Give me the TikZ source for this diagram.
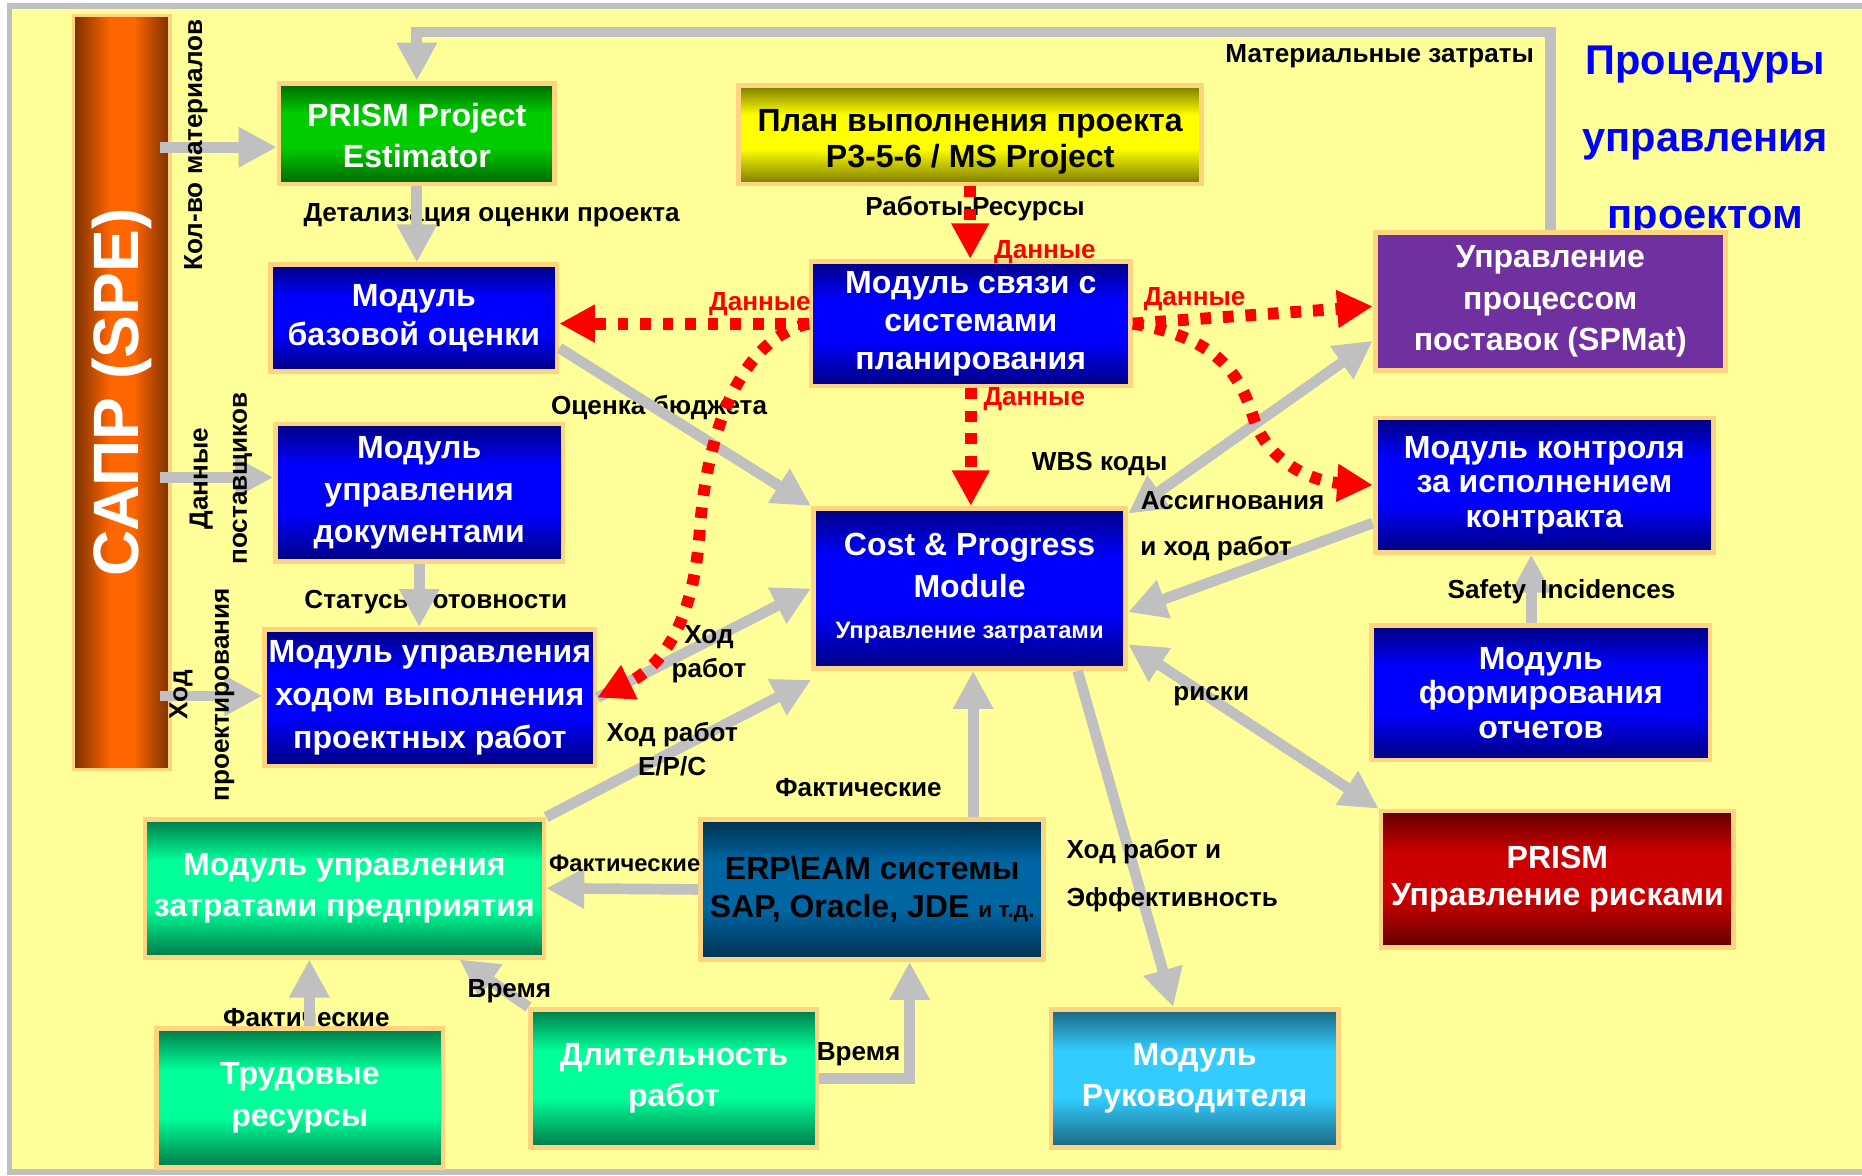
\documentclass[tikz,border=0pt]{standalone}
\usepackage{fontspec}
\setmainfont{Liberation Sans}
\usetikzlibrary{arrows.meta}

\definecolor{bgyellow}{HTML}{FFFF99}
\definecolor{framegray}{HTML}{C0C0C0}
\definecolor{arrowgray}{HTML}{C0C0C0}
\definecolor{boxrim}{HTML}{FFD480}
\definecolor{bluedk}{HTML}{000080}
\definecolor{bluebr}{HTML}{0000FF}
\definecolor{greendk}{HTML}{006600}
\definecolor{greenbr}{HTML}{00CC00}
\definecolor{olivedk}{HTML}{7A7A00}
\definecolor{yellowbr}{HTML}{FFFF00}
\definecolor{spmatviolet}{HTML}{7030A0}
\definecolor{mintdk}{HTML}{007A48}
\definecolor{mintbr}{HTML}{00FF99}
\definecolor{erpdk}{HTML}{00304F}
\definecolor{erpbr}{HTML}{0066A3}
\definecolor{riskdk}{HTML}{600000}
\definecolor{riskbr}{HTML}{CC0000}
\definecolor{cyandk}{HTML}{1A6680}
\definecolor{cyanbr}{HTML}{33CCFF}
\definecolor{saprdk}{HTML}{7A3000}
\definecolor{saprbr}{HTML}{FF6600}
\definecolor{titleblue}{HTML}{0000FF}
\colorlet{shdark}{black}
\colorlet{shbright}{white}

\pgfdeclareverticalshading[shdark,shbright]{boxshade}{100bp}{color(0bp)=(shdark); color(25bp)=(shdark); color(43bp)=(shbright); color(60bp)=(shbright); color(75bp)=(shdark); color(100bp)=(shdark)}
\pgfdeclarehorizontalshading[shdark,shbright]{barshade}{100bp}{color(0bp)=(shdark); color(25bp)=(shdark); color(44bp)=(shbright); color(56bp)=(shbright); color(75bp)=(shdark); color(100bp)=(shdark)}

\begin{document}
\begin{tikzpicture}[x=1pt,y=-1pt,
			flow/.style={draw=arrowgray, line width=9pt, -{Triangle[length=32pt,width=32pt]}},
			flowboth/.style={flow, {Triangle[length=32pt,width=32pt]}-{Triangle[length=32pt,width=32pt]}},
			datalink/.style={draw=red, line width=10pt, dash pattern=on 9pt off 10pt, -{Triangle[length=30pt,width=30pt]}},
			module/.style n args={3}{draw=boxrim, line width=4pt, /utils/exec={\colorlet{shdark}{#1}\colorlet{shbright}{#2}}, shading=boxshade, text=#3, align=center, inner sep=2pt, font=\bfseries\fontsize{27}{35}\selectfont},
			lbl/.style={inner sep=0pt, align=center, font=\bfseries\fontsize{22}{29}\selectfont},
			redlbl/.style={lbl, text=red}]

			\useasboundingbox (0,0) rectangle (1568,990);
			\fill[white] (0,0) rectangle (1568,990);
			\fill[bgyellow] (8,5) rectangle (1568,987);
			\draw[framegray, line width=5pt] (1568,5) -- (8,5) -- (8,987) -- (1568,987);

			\node[text=titleblue, align=center, font=\bfseries\fontsize{35}{65}\selectfont] (title) at (1436,119) {Процедуры\\управления\\проектом};

			\node[module={saprdk}{saprbr}{white}, shading=barshade, line width=3pt, minimum width=81, minimum height=635] (sapr) at (102.5,330.5) {};
			\node[rotate=90, text=white, font=\bfseries\fontsize{54}{60}\selectfont] (saprtext) at (sapr.center) {САПР (SPE)};

			\node[module={greendk}{greenbr}{white}, minimum width=232, minimum height=85] (prism) at (351,112.5) {\rule{0pt}{23pt}PRISM Project\\Estimator};
			\node[module={olivedk}{yellowbr}{black}, minimum width=390, minimum height=83, font=\bfseries\fontsize{27}{30}\selectfont] (plan) at (817,113.5) {\rule{0pt}{30pt}План выполнения проекта\\P3-5-6 / MS Project};
			\node[module={bluedk}{bluebr}{white}, minimum width=241, minimum height=90, font=\bfseries\fontsize{27}{33}\selectfont] (baza) at (348.5,268) {Модуль\\базовой оценки};
			\node[module={bluedk}{bluebr}{white}, minimum width=269, minimum height=105, font=\bfseries\fontsize{27}{32}\selectfont] (svyaz) at (817.5,272.5) {Модуль связи с\\системами\\планирования};
			\node[module={spmatviolet}{spmatviolet}{white}, minimum width=295, minimum height=116] (spmat) at (1305.5,254) {Управление\\процессом\\поставок (SPMat)};
			\node[module={bluedk}{bluebr}{white}, minimum width=242, minimum height=116] (docs) at (353,415) {Модуль\\управления\\документами};
			\node[module={bluedk}{bluebr}{white}, minimum width=263, minimum height=135] (cost) at (816.5,495.5) {Cost \& Progress\\Module\\{\fontsize{20}{24}\selectfont Управление затратами}};
			\node[module={bluedk}{bluebr}{white}, minimum width=285, minimum height=113, font=\bfseries\fontsize{27}{29}\selectfont] (kontrol) at (1300.5,408.5) {Модуль контроля\\за исполнением\\контракта};
			\node[module={bluedk}{bluebr}{white}, minimum width=278, minimum height=115, font=\bfseries\fontsize{27}{36}\selectfont] (hod) at (362,587.5) {Модуль управления\\ходом выполнения\\проектных работ};
			\node[module={bluedk}{bluebr}{white}, minimum width=285, minimum height=113, font=\bfseries\fontsize{27}{29}\selectfont] (otchet) at (1297.5,583.5) {Модуль\\формирования\\отчетов};
			\node[module={mintdk}{mintbr}{white}, minimum width=336, minimum height=116] (predpr) at (290,748) {Модуль управления\\затратами предприятия};
			\node[module={erpdk}{erpbr}{black}, minimum width=289, minimum height=118, font=\bfseries\fontsize{27}{32}\selectfont] (erp) at (734.5,749) {ERP\textbackslash EAM системы\\SAP, Oracle, JDE {\fontsize{19}{24}\selectfont и т.д.}};
			\node[module={riskdk}{riskbr}{white}, minimum width=297, minimum height=115, font=\bfseries\fontsize{27}{31}\selectfont] (risk) at (1311.5,740.5) {PRISM\\Управление рисками};
			\node[module={mintdk}{mintbr}{white}, minimum width=241, minimum height=117] (trud) at (252.5,924.5) {Трудовые\\ресурсы};
			\node[module={mintdk}{mintbr}{white}, minimum width=241, minimum height=116] (dlit) at (567.5,908) {Длительность\\работ};
			\node[module={cyandk}{cyanbr}{white}, minimum width=242, minimum height=116] (ruk) at (1006,908) {Модуль\\Руководителя};

			\node[lbl] (detail) at (414,181) {Детализация оценки проекта};
			\node[lbl] (budget) at (555,343) {Оценка бюджета};
			\node[lbl] (status) at (367,507) {Статусы готовности};
			\node[lbl] (fact3) at (258,857) {Фактические};
			\node[lbl] (works) at (821,176) {Работы-Ресурсы};

			\coordinate (k1) at (135,124);
			\coordinate (k2) at (135,402);
			\coordinate (k3) at (135,586);
			\coordinate (loopR) at (1305.5,27);
			\coordinate (loopL) at (351,27);

			\draw[flow] (k1) -- (k1 -| prism.west);
			\draw[flow] (k2) -- (k2 -| docs.west);
			\draw[flow] (k3) -- (k3 -| hod.west);
			\draw[flow] (spmat.north) -- (loopR) -- (loopL) -- (prism.north);
			\draw[flow] (prism.south) -- (prism.south |- baza.north);
			\draw[flow] ([yshift=-25pt]baza.east) -- (cost.north west);
			\draw[flow] (docs.south) -- (docs.south |- hod.north);
			\draw[flow] (hod.east) -- (cost.west);
			\draw[flow] (predpr.north east) -- ([yshift=-77pt]cost.west);
			\draw[flow] ([xshift=3pt]cost.south |- erp.north) -- ([xshift=3pt]cost.south);
			\draw[flow] (erp.west) -- (predpr.east);
			\draw[flow] ([xshift=8pt]trud.north) -- ([xshift=8pt]trud.north |- predpr.south);
			\draw[flow] (dlit.north west) -- ([xshift=-73pt]predpr.south east);
			\draw[flow] (dlit.east) -| ([xshift=31.5pt]erp.south);
			\draw[flow] ([xshift=91pt]cost.south) -- ([xshift=-18pt]ruk.north);
			\draw[flowboth] ([yshift=-47pt]cost.east) -- (risk.north west);
			\draw[flow] ([xshift=-8pt]otchet.north) -- ([xshift=-8pt]otchet.north |- kontrol.south);
			\draw[flow] ([yshift=-32pt]kontrol.west) -- ([yshift=-20pt]cost.east);
			\draw[flowboth] ([yshift=63pt]cost.east) -- ([yshift=-33pt]spmat.west);

			\draw[datalink] (plan.south) -- (plan.south |- svyaz.north);
			\draw[datalink] (svyaz.west) -- (svyaz.west -| baza.east);
			\draw[datalink] (svyaz.west) .. controls (625,285) and (595,360) .. (589,450) .. controls (584,520) and (560,560) .. (hod.east);
			\draw[datalink] (svyaz.south) -- (svyaz.south |- cost.north);
			\draw[datalink] (svyaz.east) -- ([yshift=-4pt]spmat.west);
			\draw[datalink] (svyaz.east) .. controls (1030,285) and (1045,320) .. (1055,350) .. controls (1065,385) and (1100,405) .. (kontrol.west);

			\node[lbl, rotate=90] (kolvo) at (165,122) {Кол-во материалов};
			\node[lbl, rotate=90, font=\bfseries\fontsize{22}{33}\selectfont] (supply) at (186,403) {Данные\\поставщиков};
			\node[lbl, rotate=90, font=\bfseries\fontsize{22}{35}\selectfont] (design) at (170,585) {Ход\\проектирования};
			\node[lbl, anchor=east] (matcost) at (1292,47) {Материальные затраты};
			\node[lbl] (hodrab) at (597,551) {Ход\\работ};
			\node[lbl] (epc) at (566,631) {Ход работ\\E/P/C};
			\node[lbl] (fact1) at (723,663) {Фактические};
			\node[lbl, font=\bfseries\fontsize{20}{24}\selectfont] (fact2) at (526,727) {Фактические};
			\node[lbl] (time1) at (429,835) {Время};
			\node[lbl] (time2) at (723,888) {Время};
			\node[lbl, anchor=west] (effect1) at (898,717) {Ход работ и};
			\node[lbl, anchor=west] (effect2) at (898,758) {Эффективность};
			\node[lbl] (risks) at (1020,586) {риски};
			\node[lbl] (safety) at (1315,498) {Safety\hspace{12pt}Incidences};
			\node[lbl, anchor=west] (hodcontr) at (960,462) {и ход работ};
			\node[lbl] (wbs) at (926,391) {WBS коды};
			\node[lbl] (assign) at (1038,422) {Ассигнования};
			\node[redlbl] (data1) at (880,212) {Данные};
			\node[redlbl] (data2) at (640,256) {Данные};
			\node[redlbl] (data3) at (871,336) {Данные};
			\node[redlbl] (data4) at (1006,252) {Данные};

		\end{tikzpicture}
\end{document}
